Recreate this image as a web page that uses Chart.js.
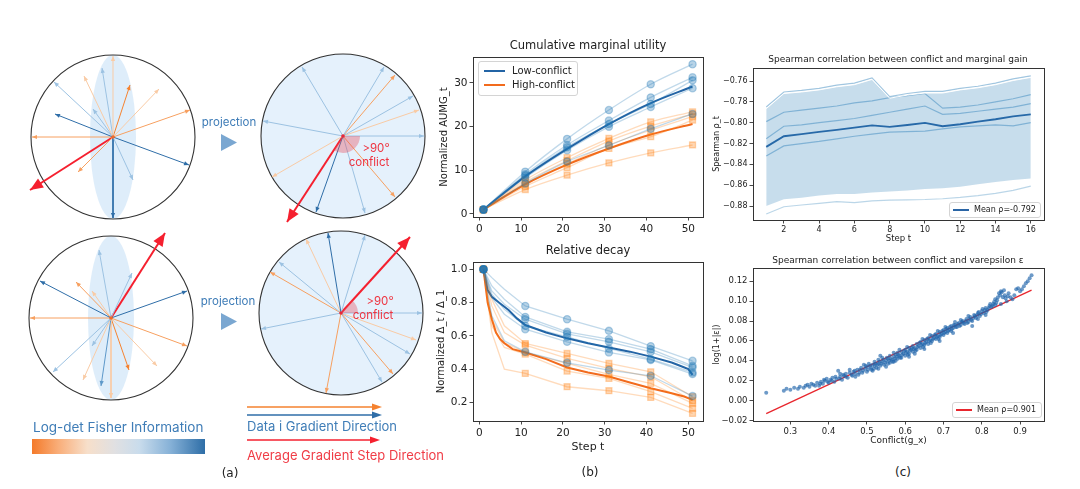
<!DOCTYPE html>
<html>
<head>
<meta charset="utf-8">
<script src="https://cdn.jsdelivr.net/npm/chart.js@4.4.1/dist/chart.umd.min.js"></script>
<style>
  body { margin: 0; background: #fff; }
  #fig { position: relative; width: 1080px; height: 489px; overflow: hidden; font-family: 'DejaVu Sans', sans-serif; color: #222; }
  canvas { position: absolute; }
  .t { position: absolute; white-space: nowrap; line-height: 1; transform: translate(-50%, -50%); }
  .l { position: absolute; white-space: nowrap; line-height: 1; transform: translate(0, -50%); }
  .inter { font-family: Inter, sans-serif; }
  .leg { position: absolute; border: 1px solid #d4d4d4; border-radius: 3px; background: rgba(255,255,255,0.85); }
  .leg .sw { position: absolute; height: 2px; }
</style>
</head>
<body>
<div id="fig">
  <svg width="1080" height="489" style="position:absolute;left:0;top:0">
    <polygon points="221,134 221,151 237,142.5" fill="#7aa7d1"/>
    <polygon points="221,313 221,330 237,321.5" fill="#7aa7d1"/>
    <line x1="247" y1="407" x2="374" y2="407" stroke="#f5822f" stroke-width="1.3"/>
    <polygon points="372,403.5 382,407 372,410.5" fill="#f5822f"/>
    <line x1="247" y1="415" x2="374" y2="415" stroke="#2f6ea8" stroke-width="1.3"/>
    <polygon points="372,411.5 382,415 372,418.5" fill="#2f6ea8"/>
    <line x1="247" y1="440" x2="372" y2="440" stroke="#f5202f" stroke-width="1.3"/>
    <polygon points="370,436.5 380,440 370,443.5" fill="#f5202f"/>
  </svg>
  <div style="position:absolute;left:32px;top:439px;width:173px;height:15px;background:linear-gradient(to right,#f47a2a 0%,#f9ad78 15%,#f7dfca 32%,#e0e0e2 48%,#c9dcec 62%,#86b1d7 80%,#2e6ea7 100%);"></div>

  <canvas id="aTL" width="220" height="220" style="left:3px;top:27px"></canvas>
  <canvas id="aTR" width="220" height="220" style="left:233px;top:26px"></canvas>
  <canvas id="aBL" width="220" height="220" style="left:1px;top:208px"></canvas>
  <canvas id="aBR" width="220" height="220" style="left:231px;top:203px"></canvas>

  <canvas id="bTop" width="280" height="199" style="left:430px;top:40px"></canvas>
  <canvas id="bBot" width="280" height="213" style="left:430px;top:245px"></canvas>
  <canvas id="cTop" width="350" height="196" style="left:700px;top:50px"></canvas>
  <canvas id="cBot" width="350" height="199" style="left:700px;top:250px"></canvas>

  <div class="t inter" style="left:229px;top:123px;font-size:11.5px;color:#3e7cb7">projection</div>
  <div class="t inter" style="left:228px;top:302px;font-size:11.5px;color:#3e7cb7">projection</div>
  <div class="t inter" style="left:376px;top:149px;font-size:11.5px;color:#ee3440">&gt;90°</div>
  <div class="t inter" style="left:369px;top:163px;font-size:11.5px;color:#ee3440">conflict</div>
  <div class="t inter" style="left:380px;top:302px;font-size:11.5px;color:#ee3440">&gt;90°</div>
  <div class="t inter" style="left:373px;top:316px;font-size:11.5px;color:#ee3440">conflict</div>
  <div class="l inter" style="left:33px;top:428px;font-size:13.5px;color:#3f7db7">Log-det Fisher Information</div>
  <div class="l inter" style="left:247px;top:426px;font-size:13px;color:#3f7db7">Data i Gradient Direction</div>
  <div class="l inter" style="left:247px;top:455px;font-size:13px;color:#f03c46">Average Gradient Step Direction</div>
  <div class="t" style="left:230px;top:473px;font-size:12px">(a)</div>
  <div class="t" style="left:590px;top:472px;font-size:12px">(b)</div>
  <div class="t" style="left:903px;top:472px;font-size:12px">(c)</div>

  <div class="t" style="left:588px;top:46px;font-size:11.5px">Cumulative marginal utility</div>
  <div class="t" style="left:588px;top:251px;font-size:11.5px">Relative decay</div>
  <div class="t" style="left:898px;top:59px;font-size:9px">Spearman correlation between conflict and marginal gain</div>
  <div class="t" style="left:898px;top:260px;font-size:9px">Spearman correlation between conflict and varepsilon ε</div>

  <div class="leg" style="left:478px;top:61px;width:98px;height:33px">
    <div class="sw" style="left:5px;width:21px;top:8px;background:#2364a5"></div>
    <div class="l" style="left:33px;top:9px;font-size:10px">Low-conflict</div>
    <div class="sw" style="left:5px;width:21px;top:22px;background:#f26b1d"></div>
    <div class="l" style="left:33px;top:23px;font-size:10px">High-conflict</div>
  </div>
  <div class="leg" style="left:949px;top:202px;width:90px;height:14px">
    <div class="sw" style="left:3px;width:16px;top:6px;height:1.5px;background:#2a65a5"></div>
    <div class="l" style="left:24px;top:7px;font-size:8px">Mean ρ=-0.792</div>
  </div>
  <div class="leg" style="left:952px;top:402px;width:88px;height:14px">
    <div class="sw" style="left:3px;width:16px;top:6px;height:1.5px;background:#e8262d"></div>
    <div class="l" style="left:24px;top:7px;font-size:8px">Mean ρ=0.901</div>
  </div>
</div>

<script>
// ---------- panel (a): gradient arrows, [dx, dy, tone] in px from the circle centre (y down)
const circleRadius = 82;
const ellipseHalfWidth = 23;
const arrowsTL = [[0,-81,'o1'],[-11,-69,'b1'],[-59,-55,'b1'],[-29,-61,'o1'],[-20,-28,'b1'],[17,-52,'o3'],[46,-48,'o1'],
  [77,-27,'o2'],[-58,-23,'b3'],[-81,0,'o2'],[76,28,'b3'],[-35,35,'o2'],[20,43,'b1'],[0,81,'b3']];
const arrowsTR = [[-41,-69,'b1'],[41,-69,'b1'],[52,-61,'o2'],[70,-40,'b1'],[76,-26,'o1'],[81,0,'b1'],[-80,-15,'b1'],
  [-71,41,'o1'],[52,61,'o2'],[22,77,'b1'],[-27,76,'b3']];
const arrowsBL = [[-12,-68,'b1'],[21,-45,'b1'],[-71,-37,'b3'],[-35,-36,'o2'],[-19,-27,'o1'],[76,-27,'b3'],[-81,0,'o2'],
  [76,28,'o2'],[-19,28,'b1'],[-58,54,'b1'],[-28,62,'o1'],[-10,68,'b2'],[0,80,'o1'],[18,52,'o3'],[46,48,'o1']];
const arrowsBR = [[-13,-80,'b3'],[-35,-74,'o1'],[24,-78,'b1'],[-62,-51,'b1'],[-71,-41,'o2'],[-80,16,'b1'],[81,0,'b1'],
  [75,27,'o1'],[69,41,'b1'],[52,61,'o2'],[41,69,'b1'],[-15,80,'o2']];
const stepTL = [-83, 53];
const stepTR = [-56, 86];
const stepBL = [54, -85];
const stepBR = [69, -76];

// ---------- panel (b)
const markerSteps = [1, 11, 21, 31, 41, 51];
const aumgLowRuns = [
  [1, 9.7, 17.2, 23.8, 29.7, 34.3],
  [1, 9.1, 15.8, 21.4, 26.7, 31.3],
  [1, 8.8, 15.3, 20.6, 25.2, 30.6],
  [1, 8.3, 14.6, 20.0, 24.5, 28.8],
  [1, 7.0, 12.0, 15.7, 19.5, 22.9]
];
const aumgHighRuns = [
  [1, 7.8, 12.9, 17.3, 21.1, 23.4],
  [1, 7.3, 12.2, 16.7, 20.1, 22.9],
  [1, 6.9, 11.5, 15.8, 19.2, 22.3],
  [1, 6.3, 10.6, 15.0, 17.7, 21.5],
  [1, 5.6, 8.9, 11.7, 14.0, 15.8]
];
const aumgLowMean = [1, 8.6, 14.9, 20.6, 25.4, 29.2];
const aumgHighMean = [1, 6.8, 11.3, 15.0, 18.2, 20.6];

const decaySteps = [1, 3, 6, 11, 21, 31, 41, 51];
const decayLowRuns = [
  [1.0, 0.95, 0.88, 0.78, 0.70, 0.63, 0.538, 0.45],
  [1.0, 0.90, 0.82, 0.714, 0.624, 0.58, 0.52, 0.42],
  [1.0, 0.87, 0.79, 0.70, 0.612, 0.564, 0.504, 0.41],
  [1.0, 0.85, 0.76, 0.66, 0.594, 0.524, 0.46, 0.38],
  [1.0, 0.83, 0.73, 0.64, 0.564, 0.50, 0.455, 0.37],
  [1.0, 0.72, 0.57, 0.504, 0.438, 0.394, 0.36, 0.238]
];
const decayHighRuns = [
  [1.0, 0.82, 0.66, 0.554, 0.494, 0.434, 0.384, 0.234],
  [1.0, 0.78, 0.62, 0.544, 0.464, 0.404, 0.354, 0.21],
  [1.0, 0.70, 0.56, 0.50, 0.434, 0.368, 0.314, 0.194],
  [1.0, 0.66, 0.53, 0.49, 0.388, 0.344, 0.264, 0.164],
  [1.0, 0.62, 0.40, 0.374, 0.294, 0.27, 0.23, 0.134]
];
const lowMeanSteps = [1, 2, 3, 5, 7, 9, 11, 16, 21, 26, 31, 36, 41, 46, 48, 50, 51];
const lowMeanDecay = [1.0, 0.875, 0.835, 0.795, 0.755, 0.705, 0.665, 0.62, 0.585, 0.555, 0.53, 0.505, 0.475, 0.44, 0.42, 0.40, 0.365];
const highMeanSteps = [1, 2, 3, 4, 5, 6, 8, 11, 16, 21, 26, 31, 36, 41, 46, 49, 51];
const highMeanDecay = [1.0, 0.80, 0.70, 0.62, 0.58, 0.555, 0.52, 0.50, 0.46, 0.41, 0.38, 0.355, 0.32, 0.285, 0.255, 0.235, 0.215];

const stepTicks = [0, 10, 20, 30, 40, 50];
const aumgTicks = [0, 10, 20, 30];
const decayTicks = [0.2, 0.4, 0.6, 0.8, 1.0];

// ---------- panel (c) top
const rhoSteps = [1, 2, 3, 4, 5, 6, 7, 8, 9, 10, 11, 12, 13, 14, 15, 16];
const rhoRunTop = [-0.785, -0.7705, -0.769, -0.767, -0.764, -0.762, -0.757, -0.775, -0.772, -0.770, -0.770, -0.767, -0.765, -0.762, -0.758, -0.755];
const rhoRunA = [-0.799, -0.790, -0.788, -0.786, -0.784, -0.781, -0.779, -0.776, -0.774, -0.772, -0.786, -0.785, -0.783, -0.780, -0.777, -0.773];
const rhoRunB = [-0.8155, -0.8034, -0.802, -0.800, -0.798, -0.796, -0.793, -0.790, -0.787, -0.784, -0.792, -0.791, -0.789, -0.787, -0.785, -0.7817];
const rhoRunC = [-0.832, -0.8223, -0.820, -0.818, -0.8155, -0.813, -0.811, -0.809, -0.8085, -0.808, -0.806, -0.804, -0.803, -0.802, -0.803, -0.800];
const rhoRunLow = [-0.8877, -0.8807, -0.879, -0.8774, -0.8758, -0.8768, -0.875, -0.8743, -0.874, -0.8737, -0.873, -0.8717, -0.870, -0.8679, -0.865, -0.8609];
const rhoMean = [-0.8232, -0.813, -0.811, -0.8089, -0.8068, -0.8047, -0.8025, -0.8041, -0.8022, -0.8002, -0.8034, -0.8015, -0.799, -0.7967, -0.794, -0.792];
const rhoBandTop = [-0.7865, -0.772, -0.7705, -0.7685, -0.7655, -0.7635, -0.7585, -0.7765, -0.7735, -0.7715, -0.7715, -0.7685, -0.7665, -0.7635, -0.7595, -0.7565];
const rhoBandBottom = [-0.880, -0.8736, -0.872, -0.870, -0.8685, -0.8685, -0.867, -0.866, -0.865, -0.8637, -0.863, -0.8615, -0.859, -0.857, -0.855, -0.8535];
const rhoXTicks = [2, 4, 6, 8, 10, 12, 14, 16];
const rhoYTicks = [-0.88, -0.86, -0.84, -0.82, -0.80, -0.78, -0.76];

// ---------- panel (c) bottom
const conflictX = [
  0.237,0.283,0.29,0.30,0.31,0.325,0.335,0.34,0.35,0.355,0.36,0.37,0.375,0.38,0.385,0.39,0.395,0.40,0.405,0.41,
  0.415,0.42,0.425,0.43,0.435,0.44,0.445,0.45,0.455,0.46,0.465,0.47,0.475,0.48,0.485,0.49,0.492,0.495,0.50,0.50,
  0.505,0.51,0.512,0.515,0.52,0.52,0.525,0.53,0.53,0.535,0.54,0.54,0.545,0.55,0.55,0.555,0.56,0.56,0.565,0.57,
  0.57,0.575,0.58,0.58,0.585,0.59,0.59,0.595,0.60,0.60,0.605,0.61,0.61,0.615,0.62,0.62,0.625,0.63,0.63,0.635,
  0.64,0.64,0.645,0.65,0.65,0.655,0.66,0.66,0.665,0.67,0.67,0.675,0.68,0.68,0.685,0.69,0.69,0.695,0.70,0.70,
  0.705,0.71,0.71,0.715,0.72,0.72,0.725,0.73,0.735,0.74,0.745,0.75,0.755,0.76,0.765,0.77,0.775,0.78,0.785,0.79,
  0.795,0.80,0.805,0.81,0.815,0.82,0.825,0.83,0.835,0.84,0.845,0.85,0.855,0.86,0.865,0.87,0.88,0.89,0.90,0.91,
  0.92,0.925,0.93,0.43,0.47,0.515,0.535,0.555,0.575,0.585,0.605,0.625,0.645,0.665,0.685,0.705,0.725,0.745,0.765,0.79,
  0.81,0.835,0.85,0.775,
  0.455,0.462,0.468,0.478,0.482,0.488,0.497,0.503,0.508,0.518,
  0.522,0.527,0.533,0.538,0.543,0.548,0.552,0.558,0.562,0.567,
  0.572,0.578,0.582,0.587,0.592,0.597,0.602,0.607,0.612,0.617,
  0.622,0.627,0.632,0.637,0.642,0.647,0.652,0.657,0.662,0.667,
  0.672,0.677,0.682,0.687,0.692,0.697,0.702,0.707,0.712,0.717,
  0.722,0.727,0.732,0.737,0.742,0.748,0.752,0.758,0.762,0.768,
  0.772,0.778,0.782,0.788,0.792,0.798,0.802,0.808,0.812,0.818,
  0.822,0.828,0.832,0.838,0.842,0.848,0.852,0.858,0.862,0.868,
  0.875,0.885,0.895,0.905,0.915,0.445,0.438,0.428,0.418,0.408,
  0.398,0.388,0.378,0.365,0.345,0.32,0.53,0.57,0.61,0.65,
  0.69,0.73
];
const epsilonY = [
  0.008,0.010,0.012,0.011,0.013,0.014,0.013,0.015,0.014,0.017,0.016,0.018,0.015,0.019,0.017,0.020,0.022,0.018,0.021,0.023,
  0.019,0.022,0.030,0.024,0.021,0.025,0.027,0.023,0.028,0.026,0.029,0.027,0.031,0.028,0.033,0.030,0.036,0.032,0.034,0.029,
  0.037,0.033,0.031,0.036,0.035,0.039,0.033,0.037,0.041,0.035,0.039,0.043,0.036,0.040,0.034,0.042,0.038,0.045,0.041,0.044,
  0.039,0.046,0.042,0.048,0.045,0.043,0.049,0.047,0.045,0.051,0.049,0.053,0.047,0.051,0.055,0.049,0.053,0.057,0.051,0.055,
  0.059,0.053,0.057,0.061,0.056,0.059,0.063,0.057,0.061,0.065,0.060,0.063,0.067,0.062,0.065,0.069,0.064,0.067,0.071,0.066,
  0.069,0.073,0.068,0.071,0.075,0.070,0.073,0.076,0.074,0.078,0.076,0.080,0.077,0.082,0.079,0.084,0.080,0.086,0.083,0.088,
  0.085,0.090,0.088,0.093,0.091,0.095,0.094,0.097,0.096,0.101,0.108,0.110,0.104,0.106,0.100,0.108,0.102,0.112,0.110,0.115,
  0.120,0.123,0.126,0.027,0.024,0.030,0.045,0.037,0.040,0.051,0.054,0.047,0.062,0.066,0.070,0.074,0.068,0.081,0.085,0.082,
  0.086,0.102,0.097,0.075,
  0.031,0.025,0.030,0.026,0.031,0.028,0.035,0.031,0.035,0.032,
  0.037,0.036,0.039,0.037,0.041,0.038,0.043,0.040,0.042,0.039,
  0.042,0.044,0.046,0.043,0.046,0.050,0.048,0.046,0.050,0.053,
  0.052,0.050,0.054,0.058,0.056,0.054,0.058,0.062,0.060,0.058,
  0.062,0.066,0.064,0.062,0.066,0.070,0.068,0.072,0.070,0.074,
  0.072,0.076,0.074,0.077,0.075,0.079,0.078,0.080,0.078,0.082,
  0.081,0.083,0.085,0.086,0.089,0.087,0.092,0.091,0.089,0.093,
  0.097,0.095,0.099,0.098,0.104,0.106,0.109,0.111,0.103,0.105,
  0.104,0.106,0.113,0.112,0.118,0.024,0.026,0.022,0.024,0.020,
  0.019,0.021,0.017,0.015,0.016,0.012,0.032,0.048,0.044,0.052,
  0.060,0.079
];
const fitX = [0.237, 0.93];
const fitY = [-0.013, 0.111];
const conflictTicks = [0.3, 0.4, 0.5, 0.6, 0.7, 0.8, 0.9];
const epsilonTicks = [-0.02, 0.00, 0.02, 0.04, 0.06, 0.08, 0.10, 0.12];

// ---------- styling
Chart.defaults.font.family = "'DejaVu Sans', sans-serif";
Chart.defaults.color = '#222';
Chart.defaults.animation = false;
Chart.defaults.plugins.legend.display = false;
Chart.defaults.plugins.tooltip.enabled = false;

const tones = { o3: '#f5822f', o2: '#f7a060', o1: '#f9cba5', b1: '#9cc2e2', b2: '#5d98c9', b3: '#2f6ea8' };
const RED = '#f5202f';
const BLUE_RUN = 'rgba(31,119,180,0.28)';
const BLUE_MARK = 'rgba(31,119,180,0.32)';
const ORANGE_RUN = 'rgba(255,127,14,0.28)';
const ORANGE_MARK = 'rgba(255,127,14,0.32)';

const pts = (xs, ys) => ys.map((v, i) => ({ x: xs[i], y: v }));
const minus = v => (v < 0 ? '\u2212' : '') + Math.abs(v).toFixed(2);

// unit circle, ellipse, conflict wedge, arrow heads
const discPlugin = {
  id: 'disc',
  beforeDatasetsDraw(chart, args, o) {
    const { ctx, scales: { x, y } } = chart;
    const cx = x.getPixelForValue(0), cy = y.getPixelForValue(0);
    const r = x.getPixelForValue(circleRadius) - cx;
    ctx.save();
    if (o.filled) {
      ctx.beginPath(); ctx.arc(cx, cy, r, 0, Math.PI * 2);
      ctx.fillStyle = '#e5f1fc'; ctx.fill();
    }
    if (o.ellipse) {
      ctx.beginPath();
      ctx.ellipse(cx, cy, x.getPixelForValue(ellipseHalfWidth) - cx, r, 0, 0, Math.PI * 2);
      ctx.fillStyle = 'rgba(208,229,248,0.7)'; ctx.fill();
    }
    ctx.beginPath(); ctx.arc(cx, cy, r, 0, Math.PI * 2);
    ctx.strokeStyle = '#333'; ctx.lineWidth = 1.1; ctx.stroke();
    ctx.restore();
  },
  afterDatasetsDraw(chart, args, o) {
    const { ctx, scales: { x, y } } = chart;
    const cx = x.getPixelForValue(0), cy = y.getPixelForValue(0);
    ctx.save();
    const last = chart.getDatasetMeta(chart.data.datasets.length - 1).data[1];
    if (o.sector) {
      const ang = Math.atan2(last.y - cy, last.x - cx);
      const rr = x.getPixelForValue(17) - cx;
      ctx.beginPath(); ctx.moveTo(cx, cy);
      ctx.arc(cx, cy, rr, Math.min(0, ang), Math.max(0, ang));
      ctx.closePath();
      ctx.fillStyle = 'rgba(232,80,95,0.38)'; ctx.fill();
    }
    chart.data.datasets.forEach((ds, i) => {
      const [a, b] = chart.getDatasetMeta(i).data;
      const ang = Math.atan2(b.y - a.y, b.x - a.x);
      const L = ds.head, W = ds.head * 0.42;
      ctx.beginPath();
      ctx.moveTo(b.x, b.y);
      ctx.lineTo(b.x - L * Math.cos(ang) + W * Math.sin(ang), b.y - L * Math.sin(ang) - W * Math.cos(ang));
      ctx.lineTo(b.x - L * Math.cos(ang) - W * Math.sin(ang), b.y - L * Math.sin(ang) + W * Math.cos(ang));
      ctx.closePath();
      ctx.fillStyle = ds.borderColor; ctx.fill();
    });
    ctx.beginPath(); ctx.arc(cx, cy, 1.8, 0, Math.PI * 2);
    ctx.fillStyle = o.filled ? '#e8283a' : '#f06a2a'; ctx.fill();
    ctx.restore();
  }
};

function circleChart(id, arrows, step, opts) {
  const datasets = arrows.map(([dx, dy, tone]) => ({
    data: [{ x: 0, y: 0 }, { x: dx, y: dy }], borderColor: tones[tone], borderWidth: 1, head: 5
  }));
  datasets.push({ data: [{ x: 0, y: 0 }, { x: step[0], y: step[1] }], borderColor: RED, borderWidth: 2, head: 13 });
  new Chart(document.getElementById(id), {
    type: 'scatter',
    data: { datasets },
    options: {
      responsive: false, devicePixelRatio: 1,
      showLine: true,
      elements: { point: { radius: 0 }, line: { tension: 0 } },
      layout: { padding: 0 },
      scales: {
        x: { display: false, min: -110, max: 110 },
        y: { display: false, min: -110, max: 110, reverse: true }
      },
      plugins: { disc: opts }
    },
    plugins: [discPlugin]
  });
}

circleChart('aTL', arrowsTL, stepTL, { filled: false, ellipse: true, sector: false });
circleChart('aTR', arrowsTR, stepTR, { filled: true, ellipse: false, sector: true });
circleChart('aBL', arrowsBL, stepBL, { filled: false, ellipse: true, sector: false });
circleChart('aBR', arrowsBR, stepBR, { filled: true, ellipse: false, sector: true });

// box around the plot area, like matplotlib spines
const frame = {
  id: 'frame',
  afterDraw(chart) {
    const { ctx, chartArea: a } = chart;
    ctx.save();
    ctx.strokeStyle = '#333'; ctx.lineWidth = 1;
    ctx.strokeRect(Math.round(a.left) + 0.5, Math.round(a.top) + 0.5, Math.round(a.right - a.left), Math.round(a.bottom - a.top));
    ctx.restore();
  }
};

function axis(c) {
  return {
    type: 'linear', min: c.min, max: c.max,
    afterBuildTicks: s => { s.ticks = c.ticks.map(v => ({ value: v })); },
    afterFit: s => { if (c.width) s.width = c.width; if (c.height) s.height = c.height; },
    grid: { display: true, drawOnChartArea: false, drawTicks: true, tickLength: 3.5, color: '#333', lineWidth: 0.9 },
    border: { display: false },
    ticks: { font: { size: c.size }, color: '#222', padding: 2, maxRotation: 0, autoSkip: false, callback: c.fmt || (v => v) },
    title: c.title ? { display: true, text: c.title, font: { size: c.titleSize }, color: '#222', padding: c.titlePad } : { display: false }
  };
}

function baseOptions(xAxis, yAxis, pad) {
  return {
    responsive: false, devicePixelRatio: 1,
    layout: { padding: pad },
    elements: { point: { radius: 0 } },
    scales: { x: xAxis, y: yAxis }
  };
}

// (b) cumulative marginal utility
const markerR = c => (c.raw && markerSteps.includes(c.raw.x)) ? 1 : 0;
const bTopSets = [];
aumgLowRuns.forEach(run => bTopSets.push({
  data: pts(markerSteps, run), borderColor: BLUE_RUN, borderWidth: 1.3, cubicInterpolationMode: 'monotone',
  pointRadius: 3.6, pointStyle: 'circle', pointBackgroundColor: BLUE_MARK, pointBorderColor: BLUE_MARK
}));
aumgHighRuns.forEach(run => bTopSets.push({
  data: pts(markerSteps, run), borderColor: ORANGE_RUN, borderWidth: 1.3, cubicInterpolationMode: 'monotone',
  pointRadius: 4.2, pointStyle: 'rect', pointBackgroundColor: ORANGE_MARK, pointBorderColor: ORANGE_MARK
}));
bTopSets.push({ data: pts(markerSteps, aumgLowMean), borderColor: '#2364a5', borderWidth: 2, cubicInterpolationMode: 'monotone' });
bTopSets.push({ data: pts(markerSteps, aumgHighMean), borderColor: '#f26b1d', borderWidth: 2, cubicInterpolationMode: 'monotone' });

new Chart(document.getElementById('bTop'), {
  type: 'line',
  data: { datasets: bTopSets },
  options: baseOptions(
    axis({ min: -1.5, max: 53.5, ticks: stepTicks, size: 10.5, height: 22 }),
    axis({ min: -0.69, max: 35.95, ticks: aumgTicks, size: 10.5, width: 43, title: 'Normalized AUMG_t', titleSize: 10, titlePad: { top: 8, bottom: 0 } }),
    { top: 17, right: 7, bottom: 0, left: 0 }
  ),
  plugins: [frame]
});

// (b) relative decay
const bBotSets = [];
decayLowRuns.forEach(run => bBotSets.push({
  data: pts(decaySteps, run), borderColor: BLUE_RUN, borderWidth: 1.3,
  pointRadius: c => 3.6 * markerR(c), pointStyle: 'circle', pointBackgroundColor: BLUE_MARK, pointBorderColor: BLUE_MARK
}));
decayHighRuns.forEach(run => bBotSets.push({
  data: pts(decaySteps, run), borderColor: ORANGE_RUN, borderWidth: 1.3,
  pointRadius: c => 4.2 * markerR(c), pointStyle: 'rect', pointBackgroundColor: ORANGE_MARK, pointBorderColor: ORANGE_MARK
}));
bBotSets.push({ data: pts(lowMeanSteps, lowMeanDecay), borderColor: '#2364a5', borderWidth: 2 });
bBotSets.push({ data: pts(highMeanSteps, highMeanDecay), borderColor: '#f26b1d', borderWidth: 2 });

new Chart(document.getElementById('bBot'), {
  type: 'line',
  data: { datasets: bBotSets },
  options: baseOptions(
    axis({ min: -1.5, max: 53.5, ticks: stepTicks, size: 10.5, height: 37, title: 'Step t', titleSize: 11, titlePad: { top: 0, bottom: 4 } }),
    axis({ min: 0.088, max: 1.044, ticks: decayTicks, size: 10.5, width: 43, fmt: v => v.toFixed(1), title: 'Normalized \u0394_t / \u0394_1', titleSize: 10, titlePad: { top: 5.5, bottom: 0 } }),
    { top: 17, right: 7, bottom: 0, left: 0 }
  ),
  plugins: [frame]
});

// (c) correlation over steps
const RUN_C = 'rgba(31,119,180,0.42)';
new Chart(document.getElementById('cTop'), {
  type: 'line',
  data: {
    datasets: [
      { data: pts(rhoSteps, rhoBandTop), borderColor: '#ffffff', borderWidth: 1, fill: '+1', backgroundColor: 'rgba(31,119,180,0.25)' },
      { data: pts(rhoSteps, rhoBandBottom), borderColor: '#ffffff', borderWidth: 1 },
      { data: pts(rhoSteps, rhoRunTop), borderColor: RUN_C, borderWidth: 1.2 },
      { data: pts(rhoSteps, rhoRunA), borderColor: RUN_C, borderWidth: 1.2 },
      { data: pts(rhoSteps, rhoRunB), borderColor: RUN_C, borderWidth: 1.2 },
      { data: pts(rhoSteps, rhoRunC), borderColor: RUN_C, borderWidth: 1.2 },
      { data: pts(rhoSteps, rhoRunLow), borderColor: 'rgba(31,119,180,0.3)', borderWidth: 1.2 },
      { data: pts(rhoSteps, rhoMean), borderColor: '#2a65a5', borderWidth: 1.8 }
    ]
  },
  options: baseOptions(
    axis({ min: 0.25, max: 16.75, ticks: rhoXTicks, size: 8, height: 26, title: 'Step t', titleSize: 8.5, titlePad: { top: 0, bottom: 2 } }),
    axis({ min: -0.8934, max: -0.7475, ticks: rhoYTicks, size: 8, width: 53, fmt: minus, title: 'Spearman \u03c1_t', titleSize: 8, titlePad: { top: 12, bottom: 0 } }),
    { top: 18, right: 6, bottom: 0, left: 0 }
  ),
  plugins: [frame]
});

// (c) conflict vs epsilon
new Chart(document.getElementById('cBot'), {
  type: 'scatter',
  data: {
    datasets: [
      { data: pts(conflictX, epsilonY), pointRadius: 2, pointBackgroundColor: 'rgba(31,100,170,0.65)', pointBorderWidth: 0 },
      { data: pts(fitX, fitY), showLine: true, borderColor: '#e8262d', borderWidth: 1.3, pointRadius: 0 }
    ]
  },
  options: baseOptions(
    axis({ min: 0.2025, max: 0.9625, ticks: conflictTicks, size: 8.5, height: 28, fmt: v => v.toFixed(1), title: 'Conflict(g_x)', titleSize: 9, titlePad: { top: 0, bottom: 2.6 } }),
    axis({ min: -0.0205, max: 0.1333, ticks: epsilonTicks, size: 8.5, width: 53, fmt: minus, title: 'log(1+|\u03b5|)', titleSize: 8, titlePad: { top: 12, bottom: 0 } }),
    { top: 18, right: 6, bottom: 0, left: 0 }
  ),
  plugins: [frame]
});
</script>
</body>
</html>
